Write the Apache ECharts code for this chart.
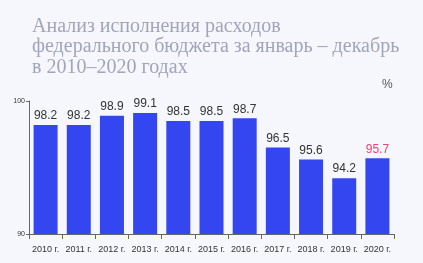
<!DOCTYPE html>
<html><head><meta charset="utf-8">
<script src="https://cdn.jsdelivr.net/npm/echarts@6/dist/echarts.min.js"></script>
<style>html,body{margin:0;padding:0;background:#f5f7fc;}#c{width:423px;height:263px;}</style>
</head><body><div id="c"></div>
<script>
const categories = ['2010 г.','2011 г.','2012 г.','2013 г.','2014 г.','2015 г.','2016 г.','2017 г.','2018 г.','2019 г.','2020 г.'];
const values = [98.2, 98.2, 98.9, 99.1, 98.5, 98.5, 98.7, 96.5, 95.6, 94.2, 95.7];
const yTicks = [90, 100];
const highlightIndex = 10;

const chart = echarts.init(document.getElementById('c'), null, {renderer: 'canvas'});
chart.setOption({
  backgroundColor: '#f5f7fc',
  animation: false,
  title: {
    text: 'Анализ исполнения расходов\nфедерального бюджета за январь – декабрь\nв 2010–2020 годах',
    left: 27, top: 11,
    textStyle: {fontFamily: 'Liberation Serif', fontSize: 20, fontWeight: 'normal', color: '#a2a4ba', lineHeight: 20.5}
  },
  graphic: [{type: 'text', left: 382, top: 79, style: {text: '%', font: '12px Liberation Sans', fill: '#555'}}],
  grid: {left: 29, right: 29, top: 101, bottom: 29},
  xAxis: {
    type: 'category', data: categories,
    axisLine: {lineStyle: {color: '#666', width: 1}},
    axisTick: {show: true, length: 5, lineStyle: {color: '#666'}},
    axisLabel: {color: '#333', fontSize: 9, fontFamily: 'Liberation Sans', margin: 11, interval: 0}
  },
  yAxis: {
    type: 'value', min: 90, max: 100, interval: 10,
    splitLine: {show: false},
    axisLine: {show: true, lineStyle: {color: '#666'}},
    axisTick: {show: true, length: 3, lineStyle: {color: '#666'}},
    axisLabel: {color: '#333', fontSize: 7, fontFamily: 'Liberation Sans', margin: 4,
      customValues: yTicks}
  },
  series: [{
    type: 'bar', barWidth: 24,
    data: values.map((v, i) => ({value: v, label: {color: i === highlightIndex ? '#f0406e' : '#333'}})),
    itemStyle: {color: '#3446ef'},
    label: {show: true, position: 'top', distance: 3, fontSize: 12, fontFamily: 'Liberation Sans', color: '#333'}
  }]
});
</script></body></html>
